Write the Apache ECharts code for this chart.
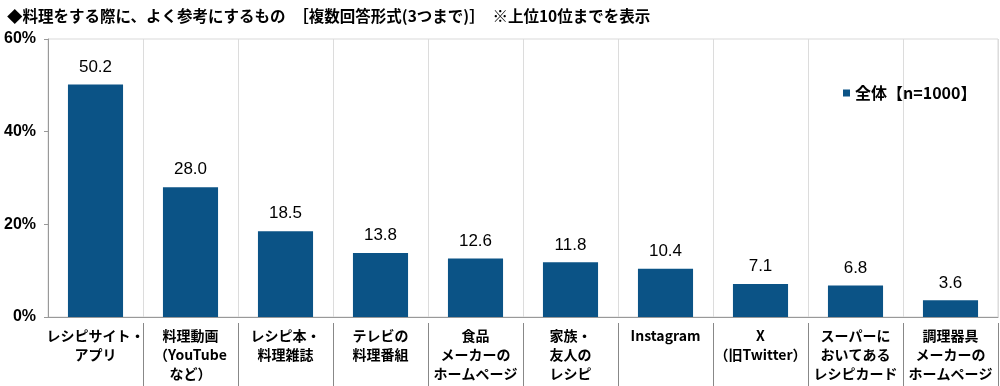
<!DOCTYPE html>
<html><head><meta charset="utf-8">
<script src="https://cdn.jsdelivr.net/npm/echarts@6/dist/echarts.min.js"></script>
<style>html,body{margin:0;padding:0;background:#fff}#c{width:1000px;height:386px}</style>
</head><body><div id="c"></div>
<script>
const titleText = '◆料理をする際に、よく参考にするもの　［複数回答形式(3つまで)］　※上位10位までを表示';
const categories = ['レシピサイト・\nアプリ','料理動画\n（YouTube\nなど）','レシピ本・\n料理雑誌','テレビの\n料理番組','食品\nメーカーの\nホームページ','家族・\n友人の\nレシピ','Instagram','X\n（旧Twitter）','スーパーに\nおいてある\nレシピカード','調理器具\nメーカーの\nホームページ'];
const seriesName = '全体【n=1000】';
const values = [50.2, 28.0, 18.5, 13.8, 12.6, 11.8, 10.4, 7.1, 6.8, 3.6];
const yTicks = [0, 20, 40, 60];

const jp = '"Noto Sans CJK JP", "Noto Sans", sans-serif';
const chart = echarts.init(document.getElementById('c'));
chart.setOption({
  animation: false,
  title: { text: titleText, left: 2, top: 3, textStyle: { fontFamily: jp, fontSize: 15.5, fontWeight: 'bold', color: '#000' } },
  legend: { data: [seriesName], left: 838, top: 80, icon: 'rect', itemWidth: 7, itemHeight: 7,
    textStyle: { fontFamily: jp, fontSize: 16, fontWeight: 'bold', color: '#000' } },
  grid: { left: 48, right: 2, top: 39, bottom: 69, show: true, borderColor: '#d9d9d9', borderWidth: 1 },
  xAxis: [{
    type: 'category', data: categories,
    axisLine: { lineStyle: { color: '#999' } },
    axisTick: { show: false },
    splitLine: { show: true, interval: 0, lineStyle: { color: '#dcdcdc' } },
    axisLabel: { interval: 0, fontFamily: jp, fontSize: 14, fontWeight: 'bold', color: '#000', lineHeight: 19, margin: 9 }
  }, {
    type: 'category', data: categories, position: 'bottom', offset: 6,
    axisLine: { show: false },
    axisLabel: { show: false },
    axisTick: { show: true, length: 64, lineStyle: { color: '#888' },
      interval: function (i) { return i > 0; } }
  }],
  yAxis: {
    type: 'value', min: yTicks[0], max: yTicks[yTicks.length - 1], interval: 20,
    axisLine: { show: true, lineStyle: { color: '#999' } },
    axisTick: { show: true, length: 4, lineStyle: { color: '#999' } },
    splitLine: { show: false },
    axisLabel: { formatter: '{value}%', fontFamily: '"Liberation Sans", Arial, sans-serif', fontSize: 16, fontWeight: 'bold', color: '#000', margin: 12 }
  },
  series: [{
    name: seriesName, type: 'bar', data: values, barWidth: '58%',
    itemStyle: { color: '#0b5386' },
    label: { show: true, position: 'top', distance: 9, formatter: p => p.value.toFixed(1),
      fontFamily: '"Liberation Sans", Arial, sans-serif', fontSize: 17, color: '#000' }
  }]
});
</script></body></html>
